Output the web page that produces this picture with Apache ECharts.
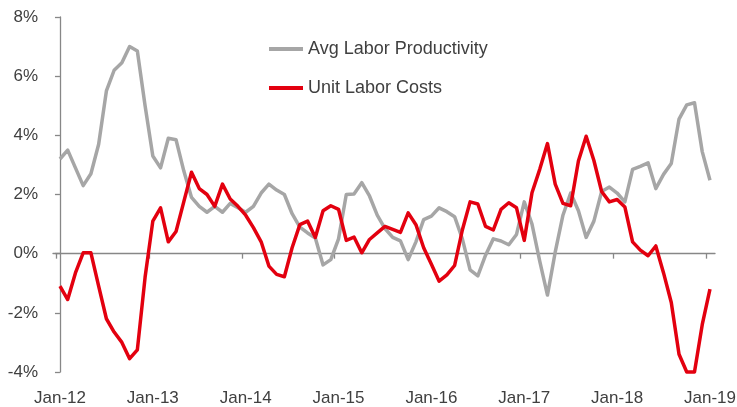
<!DOCTYPE html>
<html>
<head>
<meta charset="utf-8">
<script src="https://cdn.jsdelivr.net/npm/echarts@6/dist/echarts.min.js"></script>
<style>
html,body{margin:0;padding:0;background:#fff;}
#chart{width:737px;height:407px;}
</style>
</head>
<body>
<div id="chart"></div>
<script>
// Month categories Jan-12 .. Jan-19
const monthNames = ['Jan','Feb','Mar','Apr','May','Jun','Jul','Aug','Sep','Oct','Nov','Dec'];
const yearLabels = ['12','13','14','15','16','17','18','19'];
const tickLabels = ['Jan-12','Jan-13','Jan-14','Jan-15','Jan-16','Jan-17','Jan-18','Jan-19'];
const yTicks = [-4, -2, 0, 2, 4, 6, 8];

const seriesNames = ['Avg Labor Productivity', 'Unit Labor Costs'];

const productivity = [
  3.2, 3.5, 2.9, 2.3, 2.7, 3.7, 5.5, 6.2, 6.45, 7.0, 6.85, 5.0,
  3.3, 2.9, 3.9, 3.85, 2.8, 1.9, 1.6, 1.4, 1.6, 1.4, 1.7, 1.55,
  1.4, 1.6, 2.05, 2.35, 2.15, 2.0, 1.35, 0.9, 0.7, 0.53, -0.38, -0.2,
  0.5, 2.0, 2.02, 2.4, 1.95, 1.3, 0.85, 0.55, 0.43, -0.2, 0.4, 1.15,
  1.27, 1.55, 1.42, 1.25, 0.5, -0.55, -0.75, -0.05, 0.5, 0.43, 0.3, 0.65,
  1.75, 1.0, -0.25, -1.4, 0.05, 1.3, 2.05, 1.45, 0.55, 1.1, 2.1, 2.25,
  2.05, 1.75, 2.85, 2.95, 3.07, 2.2, 2.68, 3.05, 4.55, 5.03, 5.1, 3.45, 2.48
];

const unitLaborCosts = [
  -1.1, -1.55, -0.65, 0.03, 0.03, -1.1, -2.2, -2.65, -3.0, -3.55, -3.25, -0.8,
  1.1, 1.55, 0.4, 0.75, 1.75, 2.75, 2.2, 2.0, 1.6, 2.35, 1.85, 1.6,
  1.3, 0.88, 0.4, -0.42, -0.7, -0.78, 0.2, 0.98, 1.1, 0.55, 1.45, 1.62,
  1.5, 0.45, 0.56, 0.03, 0.48, 0.7, 0.92, 0.82, 0.72, 1.38, 0.98, 0.2,
  -0.36, -0.93, -0.72, -0.4, 0.8, 1.75, 1.68, 0.92, 0.8, 1.5, 1.72, 1.55,
  0.45, 2.06, 2.85, 3.72, 2.35, 1.7, 1.62, 3.13, 3.97, 3.15, 2.1, 1.75,
  1.83, 1.58, 0.4, 0.12, -0.07, 0.26, -0.65, -1.65, -3.4, -4.0, -4.0, -2.4, -1.2
];

// build category list (month labels)
const categories = [];
yearLabels.forEach(function (y) {
  monthNames.forEach(function (m) { categories.push(m + '-' + y); });
});
categories.length = productivity.length;

const labelIdx = tickLabels.map(function (t) { return categories.indexOf(t); });
const tickIdx = labelIdx.map(function (i) { return i - 0.5; });

function pairs(arr) { return arr.map(function (v, i) { return [i, v]; }); }

const FONT = 'Liberation Sans';
const TXT = '#404040';
const AXIS = '#878787';

const chart = echarts.init(document.getElementById('chart'), null, {renderer: 'canvas'});
chart.setOption({
  animation: false,
  backgroundColor: '#ffffff',
  grid: {left: 53, right: 22, top: 17, bottom: 35, containLabel: false, outerBoundsMode: 'none'},
  legend: {
    orient: 'vertical',
    left: 264,
    top: 34,
    icon: 'rect',
    itemWidth: 34,
    itemHeight: 4,
    itemGap: 19,
    textStyle: {fontFamily: FONT, fontSize: 18, color: TXT, lineHeight: 20},
    data: seriesNames
  },
  xAxis: {
    type: 'value',
    min: -0.9,
    max: 84.65,
    splitLine: {show: false},
    axisLine: {show: true, onZero: true, lineStyle: {color: AXIS, width: 1.3}},
    axisTick: {show: true, length: 5, lineStyle: {color: AXIS, width: 1.3}, customValues: tickIdx},
    axisLabel: {
      show: true,
      customValues: labelIdx,
      margin: 18,
      fontFamily: FONT, fontSize: 17, color: TXT,
      formatter: function (v) { return categories[Math.round(v)]; }
    }
  },
  yAxis: {
    type: 'value',
    min: -4,
    max: 8,
    interval: 2,
    splitLine: {show: false},
    axisLine: {show: true, lineStyle: {color: AXIS, width: 1.3}},
    axisTick: {show: true, length: 5, lineStyle: {color: AXIS, width: 1.3}},
    axisLabel: {
      margin: 15,
      fontFamily: FONT, fontSize: 17, color: TXT,
      formatter: function (v) { return v + '%'; }
    }
  },
  series: [
    {
      name: seriesNames[0],
      type: 'line',
      data: pairs(productivity),
      symbol: 'none',
      clip: false,
      lineStyle: {color: '#A6A6A6', width: 3.5, join: 'round'},
      itemStyle: {color: '#A6A6A6'}
    },
    {
      name: seriesNames[1],
      type: 'line',
      data: pairs(unitLaborCosts),
      symbol: 'none',
      clip: false,
      lineStyle: {color: '#E3000F', width: 3.5, join: 'round'},
      itemStyle: {color: '#E3000F'}
    }
  ]
});
</script>
</body>
</html>
